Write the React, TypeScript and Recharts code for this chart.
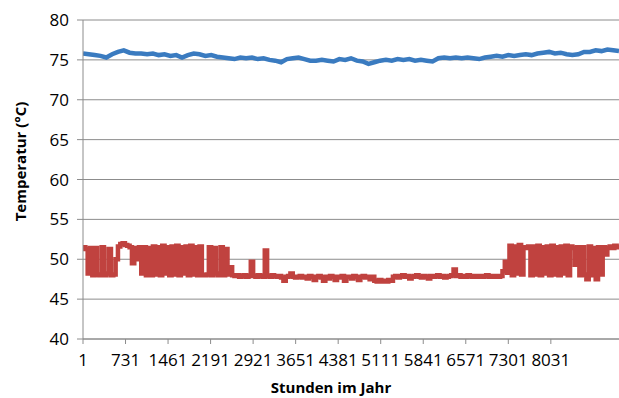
import { CartesianGrid, Line, LineChart, XAxis, YAxis } from "recharts";

// hour of the first sample and sample spacing (hours) for each series
const redStep = 40;
const blueStep = 100;

const redValues = [
  51.5, 51.3, 48.2, 51.4, 48.0, 51.4, 48.1, 48.0, 51.5, 48.0,
  48.2, 51.3, 48.0, 48.1, 50.0, 51.6, 51.9, 52.0, 51.8, 51.7,
  51.5, 49.5, 51.4, 50.0, 51.5, 48.2, 51.5, 48.0, 51.4,
  48.0, 51.6, 48.1, 51.5, 48.0, 51.7, 48.2, 51.5, 48.0, 51.6,
  48.1, 51.7, 48.0, 51.5, 48.2, 51.6, 48.0, 51.7, 48.1, 51.5,
  48.0, 51.6, 48.0,
  48.0, 48.1,
  51.5, 48.0, 51.4, 48.2, 48.0, 51.5, 48.0, 51.3, 48.1,
  49.0, 48.0,
  47.9, 48.0, 47.8, 47.9, 48.0, 47.8, 47.9, 49.7, 47.9, 47.8,
  48.0, 47.9, 47.8, 51.1, 47.9, 47.8, 48.0, 47.9, 47.8, 47.9,
  47.7, 47.3, 47.8, 47.9, 48.2, 47.8, 47.7, 47.8, 47.9, 47.7,
  47.8, 47.6, 47.9, 47.8, 47.4, 47.8, 47.9, 47.7, 47.3, 47.8,
  47.6, 47.9, 47.8, 47.4, 47.8, 47.7, 47.9, 47.3, 47.8,
  47.8, 47.6, 47.9, 47.8, 47.4, 47.8, 47.9, 47.7, 47.8, 47.5, 47.8,
  47.3, 47.2, 47.4, 47.2, 47.3, 47.2, 47.4, 47.3,
  47.8, 47.9, 47.7, 47.9, 48.0, 47.8, 47.9, 47.6, 47.8, 47.9,
  48.0, 47.8, 47.7, 47.9, 47.8, 47.6, 47.9, 47.8, 47.9, 48.0,
  47.8, 47.9, 47.7, 47.8, 47.9, 48.0, 48.7,
  47.9, 48.0, 47.8, 47.9, 47.8, 48.0, 47.9, 47.8, 47.9, 47.8,
  47.9, 47.8, 47.9, 48.0, 47.8, 47.9, 47.8, 47.9, 47.8, 47.9,
  48.5, 49.7, 48.3,
  51.7, 48.0, 51.6, 48.2, 51.8, 48.1,
  51.5, 51.4, 51.6,
  48.0, 51.6, 48.1, 51.7, 48.0, 51.5, 48.2, 51.6, 48.0, 51.7,
  48.1, 51.5, 48.0, 51.6, 48.2, 51.7, 48.0, 51.6,
  51.4, 49.3, 51.5,
  48.0, 51.5, 48.1, 47.5, 51.6, 48.0, 51.4, 47.5, 51.5, 48.1,
  51.5, 50.6, 51.4,
  51.6, 51.4, 51.7, 51.5, 51.6,
];

const blueValues = [
  75.8, 75.7, 75.6, 75.5, 75.3, 75.7, 76.0, 76.2, 75.9, 75.8,
  75.8, 75.7, 75.8, 75.6, 75.7, 75.5, 75.6, 75.3, 75.6, 75.8,
  75.7, 75.5, 75.6, 75.4, 75.3, 75.2, 75.1, 75.3, 75.2, 75.3,
  75.1, 75.2, 75.0, 74.9, 74.7, 75.1, 75.2, 75.3, 75.1, 74.9,
  74.9, 75.0, 74.9, 74.8, 75.1, 75.0, 75.2, 74.9, 74.8, 74.5,
  74.7, 74.9, 75.0, 74.9, 75.1, 75.0, 75.1, 74.9, 75.0, 74.9,
  74.8, 75.2, 75.3, 75.2, 75.3, 75.2, 75.3, 75.2, 75.1, 75.3,
  75.4, 75.5, 75.4, 75.6, 75.5, 75.6, 75.7, 75.6, 75.8, 75.9,
  76.0, 75.8, 75.9, 75.7, 75.6, 75.7, 76.0, 76.0, 76.2, 76.1,
  76.3, 76.2, 76.1,
];

const xTicks = [1, 731, 1461, 2191, 2921, 3651, 4381, 5111, 5841, 6571, 7301, 8031];
const yTicks = [40, 45, 50, 55, 60, 65, 70, 75, 80];

const redData = redValues.map((v, i) => ({ hour: 1 + i * redStep, temp: v }));
const blueData = blueValues.map((v, i) => ({ hour: 1 + i * blueStep, temp: v }));

const font = "'Open Sans', sans-serif";

export default function App() {
  return (
    <div style={{ position: "absolute", left: 0, top: 0, width: 619, height: 398, fontFamily: font }}>
      <LineChart width={619} height={398} margin={{ top: 20, right: 0, bottom: 0, left: 0 }}>
        <CartesianGrid horizontal vertical={false} stroke="#8c8c8c" />
        <XAxis
          type="number"
          dataKey="hour"
          domain={[1, 9201]}
          ticks={xTicks}
          allowDataOverflow
          height={59}
          stroke="#8c8c8c"
          tickSize={5}
          tickMargin={10}
          tick={{ fill: "#000", fontSize: 17, fontFamily: font }}
          label={{
            value: "Stunden im Jahr",
            position: "insideBottom",
            offset: 5,
            dx: -20,
            style: { fill: "#000", fontSize: 15, fontWeight: 700, fontFamily: font },
          }}
        />
        <YAxis
          type="number"
          domain={[40, 80]}
          ticks={yTicks}
          width={83}
          stroke="#8c8c8c"
          tickSize={6}
          tickMargin={8}
          tick={{ fill: "#000", fontSize: 17, fontFamily: font }}
          label={{
            value: "Temperatur (°C)",
            angle: -90,
            position: "insideLeft",
            offset: 21,
            dy: -18,
            style: { fill: "#000", fontSize: 15, fontWeight: 700, fontFamily: font, textAnchor: "middle" },
          }}
        />
        <Line
          data={blueData}
          dataKey="temp"
          type="linear"
          stroke="#3a7bc0"
          strokeWidth={4.5}
          dot={false}
          isAnimationActive={false}
        />
        <Line
          data={redData}
          dataKey="temp"
          type="stepAfter"
          stroke="#c0423f"
          strokeWidth={4.5}
          dot={false}
          isAnimationActive={false}
        />
      </LineChart>
    </div>
  );
}
